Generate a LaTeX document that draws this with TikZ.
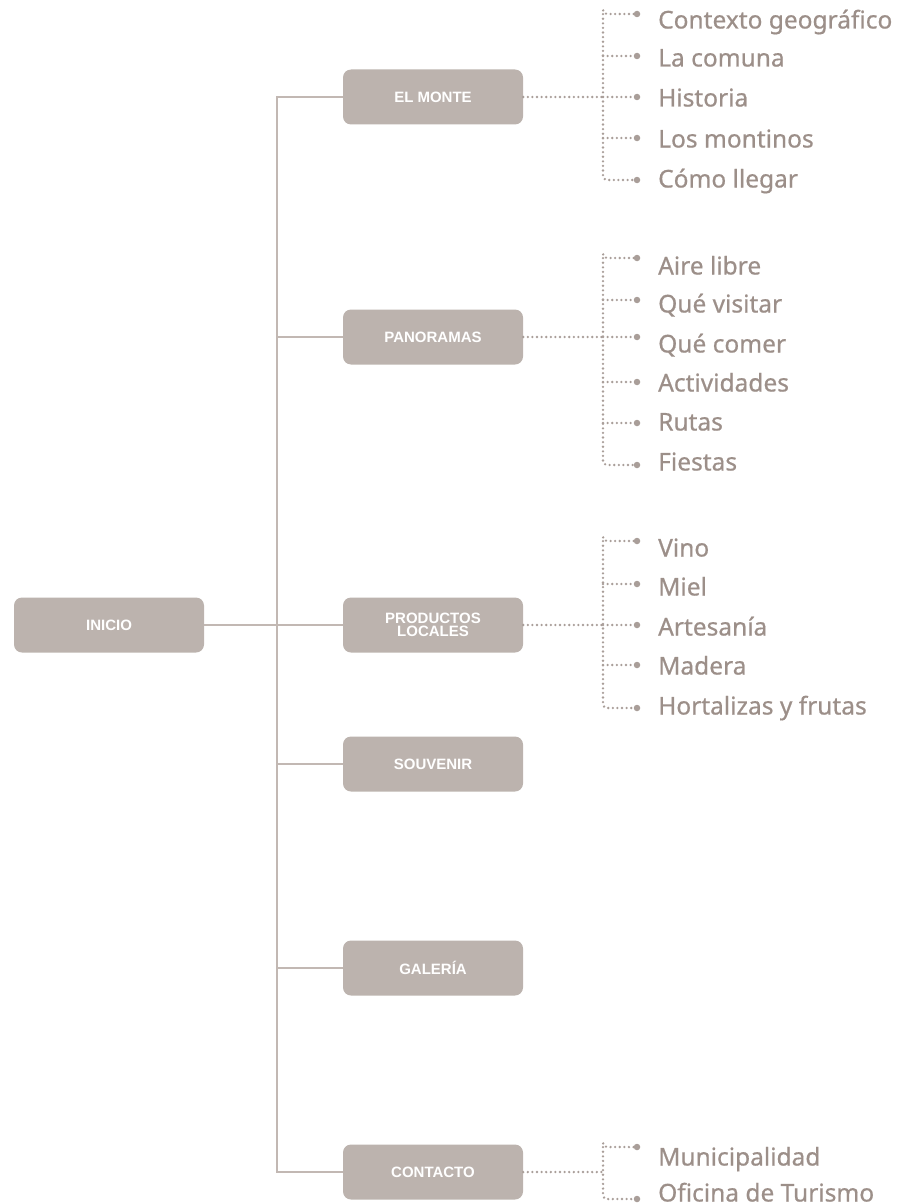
\documentclass[tikz,border=0pt]{standalone}
\usepackage{fontspec}
\setmainfont{Liberation Sans}
\newfontfamily\itemfont[FakeBold=0.6]{Noto Sans}
\definecolor{boxfill}{HTML}{BCB3AE}
\definecolor{linec}{HTML}{C2B8B3}
\definecolor{dotc}{HTML}{A99E99}
\definecolor{itemc}{HTML}{9C8F89}
\begin{document}
\begin{tikzpicture}[x=1pt,y=-1pt,
  menubox/.style={fill=boxfill,rounded corners=8pt,minimum width=180pt,minimum height=55pt,inner sep=0pt,text=white,font=\fontsize{15}{13}\selectfont\bfseries,align=center},
  trunk/.style={draw=linec,line width=1.6pt},
  dotline/.style={draw=dotc,line width=2.6pt,dash pattern=on 0pt off 4.6pt,line cap=round},
  item/.style={anchor=west,inner sep=0pt,text=itemc,font=\itemfont\fontsize{24.5}{24}\selectfont,text height=17pt,text depth=0pt},
  enddot/.style={circle,fill=dotc,inner sep=0pt,minimum size=6.5pt}]
\useasboundingbox (0,0) rectangle (907,1204);
% main boxes
\node[menubox,minimum width=190pt] (inicio) at (109,625) {INICIO};
\node[menubox] (monte) at (433,97) {EL MONTE};
\node[menubox] (pano) at (433,337) {PANORAMAS};
\node[menubox] (prod) at (433,625) {PRODUCTOS\\LOCALES};
\node[menubox] (souv) at (433,764) {SOUVENIR};
\node[menubox] (gal) at (433,968) {GALERÍA};
\node[menubox] (cont) at (433,1172) {CONTACTO};
% trunk
\coordinate (tk) at (277,625);
\draw[trunk] (inicio.east) -- (tk);
\draw[trunk] (monte.west) -| (tk) |- (cont.west);
\draw[trunk] (pano.west) -- (pano.west -| tk);
\draw[trunk] (prod.west) -- (prod.west -| tk);
\draw[trunk] (souv.west) -- (souv.west -| tk);
\draw[trunk] (gal.west) -- (gal.west -| tk);
% ---- El Monte group
\foreach \n/\t/\y in {m1/Contexto geográfico/20, m2/La comuna/58, m3/Historia/98, m4/Los montinos/139, m5/Cómo llegar/179}
  \node[item] (\n) at (658,\y) {\t};
\node[enddot] (dm1) at (637,14) {};
\node[enddot] (dm2) at (637,56) {};
\node[enddot] (dm3) at (637,97) {};
\node[enddot] (dm4) at (637,138) {};
\node[enddot] (dm5) at (637,180) {};
\coordinate (bm) at (603,97);
\draw[dotline] (monte.east) -- (bm);
\draw[dotline,rounded corners=4pt] (dm1) -| (bm |- dm1) |- (dm5);
\draw[dotline] (bm |- dm2) -- (dm2);
\draw[dotline] (bm |- dm3) -- (dm3);
\draw[dotline] (bm |- dm4) -- (dm4);
% ---- Panoramas group
\foreach \n/\t/\y in {p1/Aire libre/266, p2/Qué visitar/304, p3/Qué comer/344, p4/Actividades/383, p5/Rutas/422, p6/Fiestas/462}
  \node[item] (\n) at (658,\y) {\t};
\node[enddot] (dp1) at (637,258) {};
\node[enddot] (dp2) at (637,300) {};
\node[enddot] (dp3) at (637,337) {};
\node[enddot] (dp4) at (637,382) {};
\node[enddot] (dp5) at (637,423) {};
\node[enddot] (dp6) at (637,465) {};
\coordinate (bp) at (603,337);
\draw[dotline] (pano.east) -- (bp);
\draw[dotline,rounded corners=4pt] (dp1) -| (bp |- dp1) |- (dp6);
\draw[dotline] (bp |- dp2) -- (dp2);
\draw[dotline] (bp |- dp3) -- (dp3);
\draw[dotline] (bp |- dp4) -- (dp4);
\draw[dotline] (bp |- dp5) -- (dp5);
% ---- Productos group
\foreach \n/\t/\y in {r1/Vino/548, r2/Miel/587, r3/Artesanía/627, r4/Madera/666, r5/Hortalizas y frutas/706}
  \node[item] (\n) at (658,\y) {\t};
\node[enddot] (dr1) at (637,541) {};
\node[enddot] (dr2) at (637,584) {};
\node[enddot] (dr3) at (637,625) {};
\node[enddot] (dr4) at (637,665) {};
\node[enddot] (dr5) at (637,708) {};
\coordinate (br) at (603,625);
\draw[dotline] (prod.east) -- (br);
\draw[dotline,rounded corners=4pt] (dr1) -| (br |- dr1) |- (dr5);
\draw[dotline] (br |- dr2) -- (dr2);
\draw[dotline] (br |- dr3) -- (dr3);
\draw[dotline] (br |- dr4) -- (dr4);
% ---- Contacto group
\node[item] (c1) at (658,1157) {Municipalidad};
\node[item] (c2) at (658,1193) {Oficina de Turismo};
\node[enddot] (dc1) at (637,1147) {};
\node[enddot] (dc2) at (637,1199) {};
\coordinate (bc) at (603,1172);
\draw[dotline] (cont.east) -- (bc);
\draw[dotline,rounded corners=4pt] (dc1) -| (bc |- dc1) |- (dc2);
\end{tikzpicture}
\end{document}
